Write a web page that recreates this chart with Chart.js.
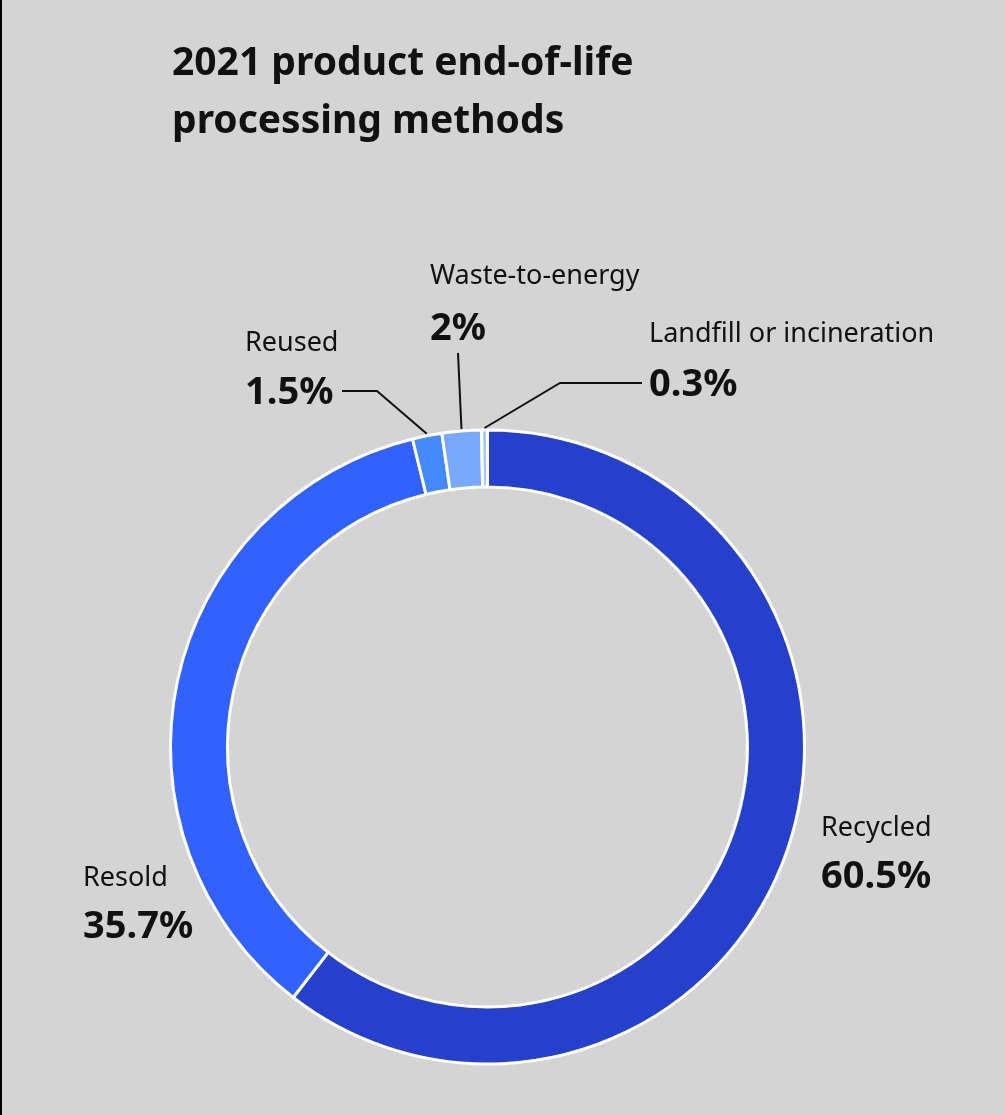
<!DOCTYPE html>
<html>
<head>
<meta charset="utf-8">
<script src="https://cdn.jsdelivr.net/npm/chart.js@4"></script>
<style>
  html, body { margin: 0; padding: 0; background: #d4d4d4; overflow: hidden; }
  #wrap { position: relative; width: 1005px; height: 1115px; }
  #edge { position: absolute; left: 0; top: 0; width: 2px; height: 1115px; background: #000; }
</style>
</head>
<body>
<div id="wrap">
  <canvas id="donut"></canvas>
  <div id="edge"></div>
</div>
<script>
// data
const categories = ["Recycled", "Resold", "Reused", "Waste-to-energy", "Landfill or incineration"];
const shares = [60.5, 35.7, 1.5, 2, 0.3];
const valueLabels = ["60.5%", "35.7%", "1.5%", "2%", "0.3%"];
const titleLines = ["2021 product end-of-life", "processing methods"];

const sliceColors = ["#2541cc", "#3162ff", "#4589ff", "#78a9ff", "#a6c8ff"];
const fontFamily = "'Noto Sans', 'Open Sans', sans-serif";

// where each label sits (name baseline, value baseline) and optional leader line
const labelLayout = [
  { x: 821, nameY: 836, valueY: 888 },
  { x: 83, nameY: 886, valueY: 938 },
  { x: 245, nameY: 351, valueY: 404, line: { from: [342, 391], elbow: [377, 391] } },
  { x: 430, nameY: 284, valueY: 340, line: { from: [458, 353], elbow: [458, 353] } },
  { x: 649, nameY: 342, valueY: 396, line: { from: [642, 383], elbow: [560, 383] } },
];

const labelPlugin = {
  id: "labelPlugin",
  afterDraw(chart) {
    const ctx = chart.ctx;
    const arcs = chart.getDatasetMeta(0).data;
    ctx.save();
    ctx.fillStyle = "#111111";
    ctx.textAlign = "left";
    ctx.textBaseline = "alphabetic";

    // title
    ctx.font = "bold 39px " + fontFamily;
    ctx.fillText(titleLines[0], 172, 75);
    ctx.fillText(titleLines[1], 172, 133);

    labelLayout.forEach(function (lay, i) {
      ctx.font = "27px " + fontFamily;
      ctx.fillText(categories[i], lay.x, lay.nameY);
      ctx.font = "bold 38px " + fontFamily;
      ctx.fillText(valueLabels[i], lay.x, lay.valueY);

      if (lay.line) {
        const arc = arcs[i];
        const mid = (arc.startAngle + arc.endAngle) / 2;
        const r = arc.outerRadius + 2;
        const ax = arc.x + Math.cos(mid) * r;
        const ay = arc.y + Math.sin(mid) * r;
        ctx.strokeStyle = "#111111";
        ctx.lineWidth = 2;
        ctx.beginPath();
        ctx.moveTo(lay.line.from[0], lay.line.from[1]);
        ctx.lineTo(lay.line.elbow[0], lay.line.elbow[1]);
        ctx.lineTo(ax, ay);
        ctx.stroke();
      }
    });
    ctx.restore();
  },
};

const donut = document.getElementById("donut");
new Chart(donut, {
  type: "doughnut",
  data: {
    labels: categories,
    datasets: [
      {
        data: shares,
        backgroundColor: sliceColors,
        borderColor: "#ffffff",
        borderWidth: 3,
        hoverOffset: 0,
      },
    ],
  },
  options: {
    responsive: true,
    maintainAspectRatio: false,
    animation: false,
    events: [],
    cutout: "82%",
    layout: {
      padding: { left: 169, top: 428, right: 199, bottom: 49 },
    },
    plugins: {
      legend: { display: false },
      tooltip: { enabled: false },
    },
  },
  plugins: [labelPlugin],
});
</script>
</body>
</html>
